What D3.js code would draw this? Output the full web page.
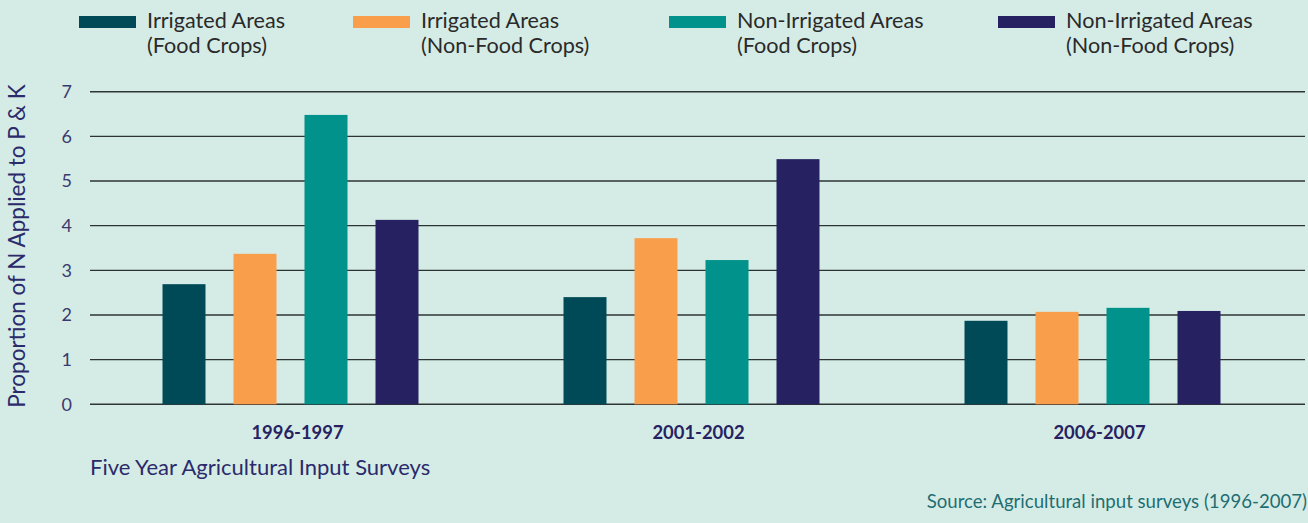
<!DOCTYPE html>
<html>
<head>
<meta charset="utf-8">
<script src="https://cdn.jsdelivr.net/npm/d3@7"></script>
<style>
  html, body { margin: 0; padding: 0; background: #d5ece6; }
  svg { display: block; font-family: Lato, "Noto Sans", sans-serif; }
</style>
</head>
<body>
<svg id="chart" width="1308" height="523"></svg>
<script>
// Survey periods on the x axis
const periods = ["1996-1997", "2001-2002", "2006-2007"];

// Series (legend entries, two text lines each)
const seriesKeys = ["irrFood", "irrNonFood", "nonIrrFood", "nonIrrNonFood"];
const seriesLine1 = ["Irrigated Areas", "Irrigated Areas", "Non-Irrigated Areas", "Non-Irrigated Areas"];
const seriesLine2 = ["(Food Crops)", "(Non-Food Crops)", "(Food Crops)", "(Non-Food Crops)"];
const seriesColors = ["#004a57", "#f99e4b", "#00928b", "#262262"];

// N : (P + K) ratio per period, one array per series
const irrFood       = [2.69, 2.40, 1.87];
const irrNonFood    = [3.37, 3.72, 2.07];
const nonIrrFood    = [6.48, 3.23, 2.16];
const nonIrrNonFood = [4.13, 5.49, 2.09];

const yTicks = [0, 1, 2, 3, 4, 5, 6, 7];

const seriesValues = { irrFood, irrNonFood, nonIrrFood, nonIrrNonFood };

const svg = d3.select("#chart");

const plot = { left: 90, right: 1293, top: 91.7, bottom: 404.3, gridEnd: 1305 };

const x0 = d3.scaleBand().domain(periods).range([plot.left, plot.right]).padding(0);
// each group holds 4 bars 43px wide with a 71px stride, centred in its band
const groupWidth = 284;
const x1 = d3.scaleBand().domain(seriesKeys)
  .range([0, groupWidth])
  .paddingInner(28 / 71)
  .paddingOuter(14 / 71);
const y = d3.scaleLinear().domain([0, 7]).range([plot.bottom, plot.top]);
const color = d3.scaleOrdinal().domain(seriesKeys).range(seriesColors);

// Horizontal gridlines
svg.append("g").selectAll("line")
  .data(yTicks)
  .join("line")
  .attr("x1", plot.left)
  .attr("x2", plot.gridEnd)
  .attr("y1", d => y(d))
  .attr("y2", d => y(d))
  .attr("stroke", "#2e3433")
  .attr("stroke-width", 1.4);

// Y tick labels
svg.append("g").selectAll("text")
  .data(yTicks)
  .join("text")
  .attr("x", 72)
  .attr("y", d => y(d))
  .attr("dy", "0.35em")
  .attr("text-anchor", "end")
  .attr("fill", "#3b3a6c")
  .attr("font-size", 18)
  .text(d => d);

// Bars
const groups = svg.append("g").selectAll("g")
  .data(periods)
  .join("g")
  .attr("transform", p => `translate(${x0(p) + (x0.bandwidth() - groupWidth) / 2},0)`);

groups.selectAll("rect")
  .data((p, i) => seriesKeys.map(k => ({ key: k, value: seriesValues[k][i] })))
  .join("rect")
  .attr("x", d => x1(d.key))
  .attr("width", x1.bandwidth())
  .attr("y", d => y(d.value))
  .attr("height", d => y(0) - y(d.value))
  .attr("fill", d => color(d.key));

// Category labels
svg.append("g").selectAll("text")
  .data(periods)
  .join("text")
  .attr("x", p => x0(p) + x0.bandwidth() / 2 + 7)
  .attr("y", 439)
  .attr("text-anchor", "middle")
  .attr("font-weight", "bold")
  .attr("font-size", 18.4)
  .attr("fill", "#262262")
  .text(p => p);

// Axis titles
svg.append("text")
  .attr("transform", "translate(25,246) rotate(-90)")
  .attr("text-anchor", "middle")
  .attr("font-size", 22.5)
  .attr("fill", "#2b2a6b")
  .text("Proportion of N Applied to P & K");

svg.append("text")
  .attr("x", 90)
  .attr("y", 475)
  .attr("font-size", 22)
  .attr("fill", "#2b2a6b")
  .text("Five Year Agricultural Input Surveys");

svg.append("text")
  .attr("x", 1307)
  .attr("y", 508)
  .attr("text-anchor", "end")
  .attr("font-size", 18.6)
  .attr("fill", "#1f6e72")
  .text("Source: Agricultural input surveys (1996-2007)");

// Legend
const legendX = [79, 353, 669, 998];
const legend = svg.append("g").selectAll("g")
  .data(seriesKeys)
  .join("g")
  .attr("transform", (k, i) => `translate(${legendX[i]},0)`);

legend.append("rect")
  .attr("x", 0).attr("y", 16)
  .attr("width", 57).attr("height", 12)
  .attr("fill", k => color(k));

legend.append("text")
  .attr("x", 68).attr("y", 28)
  .attr("font-size", 21.6)
  .attr("fill", "#2a2a2a")
  .text((k, i) => seriesLine1[i]);

legend.append("text")
  .attr("x", 68).attr("y", 53)
  .attr("font-size", 21.6)
  .attr("fill", "#2a2a2a")
  .text((k, i) => seriesLine2[i]);
</script>
</body>
</html>
